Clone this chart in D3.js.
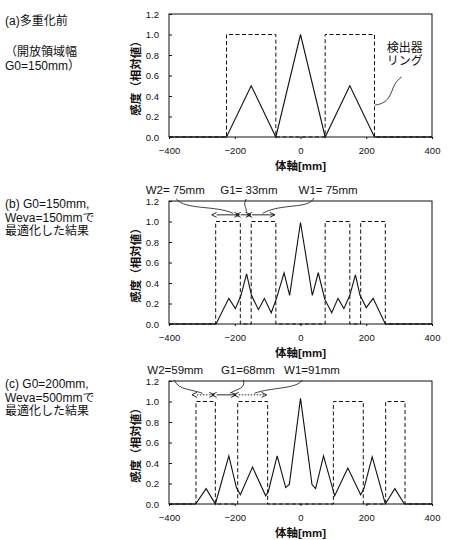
<!DOCTYPE html>
<html>
<head>
<meta charset="utf-8">
<script src="https://cdn.jsdelivr.net/npm/d3@7"></script>
<style>
  body { margin: 0; background: #fff; }
  text { font-family: "Liberation Sans", "Noto Sans CJK JP", sans-serif; fill: #111; }
</style>
</head>
<body>
<script>
// tick values shared by all three panels
const xTicks = [-400, -200, 0, 200, 400];
const yTicks = [0, 0.2, 0.4, 0.6, 0.8, 1.0, 1.2];

// (a) before multiplexing
const posA = [-400, -225, -150, -75, 0, 75, 150, 225, 400];
const sensA = [0, 0, 0.5, 0, 1.0, 0, 0.5, 0, 0];
const ringsA = [[-225, -75], [75, 225]];

// (b) G0=150, Weva=150
const posB = [-400, -257, -218, -198, -181, -164, -149, -128, -110, -89, -73, -50, -33, 0,
              36, 54, 74, 95, 114, 132, 150, 167, 181, 200, 221, 258, 400];
const sensB = [0, 0, 0.25, 0.15, 0.28, 0.49, 0.28, 0.14, 0.25, 0.11, 0.25, 0.5, 0.28, 0.99,
               0.28, 0.5, 0.24, 0.11, 0.25, 0.15, 0.28, 0.48, 0.28, 0.16, 0.25, 0, 0];
const ringsB = [[-258, -183], [-150, -75], [75, 150], [183, 258]];

// (c) G0=200, Weva=500
const posC = [-400, -319, -287, -259, -218, -195, -183, -146, -106, -98, -71, -45, -34, 0,
              35, 46, 70, 104, 144, 183, 193, 218, 258, 287, 316, 400];
const sensC = [0, 0, 0.15, 0, 0.47, 0.16, 0.09, 0.36, 0.08, 0.12, 0.47, 0.16, 0.19, 1.03,
               0.19, 0.15, 0.47, 0.08, 0.35, 0.09, 0.15, 0.46, 0, 0.15, 0, 0];
const ringsC = [[-318, -259], [-191, -100], [100, 191], [259, 318]];

const captions = [
  ["(a)多重化前", "（開放領域幅", "G0=150mm）"],
  ["(b) G0=150mm,", "Weva=150mmで", "最適化した結果"],
  ["(c) G0=200mm,", "Weva=500mmで", "最適化した結果"]
];

// width labels above (b) and (c): text, x [mm], leader curve points [mm, value]
const notesB = [
  { text: "W2= 75mm", x: -381, span: [-255, -186], dot: false,
    lead: [[-378, 1.22], [-350, 1.11], [-260, 1.16], [-205, 1.08]] },
  { text: "G1= 33mm", x: -157, span: [-182, -151], dot: false,
    lead: [[-165, 1.22], [-178, 1.15], [-160, 1.14], [-166, 1.085]] },
  { text: "W1= 75mm", x: 84, span: [-147, -78], dot: false,
    lead: [[40, 1.23], [30, 1.12], [-60, 1.18], [-115, 1.08]] }
];
const notesC = [
  { text: "W2=59mm", x: -381, span: [-315, -262], dot: true,
    lead: [[-384, 1.21], [-372, 1.11], [-330, 1.12], [-298, 1.08]] },
  { text: "G1=68mm", x: -160, span: [-255, -196], dot: false,
    lead: [[-173, 1.21], [-168, 1.12], [-190, 1.13], [-215, 1.08]] },
  { text: "W1=91mm", x: 35, span: [-188, -103], dot: true,
    lead: [[5, 1.21], [-10, 1.12], [-90, 1.14], [-140, 1.08]] }
];

const panels = [
  { top: 14, pos: posA, sens: sensA, rings: ringsA, cap: captions[0], capY: [21, 52, 65.5], notes: [] },
  { top: 201, pos: posB, sens: sensB, rings: ringsB, cap: captions[1], capY: [204, 217.5, 231], notes: notesB },
  { top: 381, pos: posC, sens: sensC, rings: ringsC, cap: captions[2], capY: [384, 397.5, 411], notes: notesC }
];

const plotH = 123;
const svg = d3.select("body").append("svg")
  .attr("width", 456)
  .attr("height", 540);

const defs = svg.append("defs");
["s", "e"].forEach(k => {
  defs.append("marker")
      .attr("id", "head-" + k)
      .attr("viewBox", "0 0 6 6")
      .attr("refX", k === "e" ? 5.5 : 0.5).attr("refY", 3)
      .attr("markerWidth", 6).attr("markerHeight", 6)
      .attr("markerUnits", "userSpaceOnUse")
      .attr("orient", "auto-start-reverse")
    .append("path")
      .attr("d", "M0.5,0.5 L5.5,3 L0.5,5.5")
      .attr("fill", "none")
      .attr("stroke", "#111")
      .attr("stroke-width", 0.9);
});

const x = d3.scaleLinear().domain([-400, 400]).range([169, 432]);

panels.forEach((p, i) => {
  const y = d3.scaleLinear().domain([0, 1.2]).range([p.top + plotH, p.top]);
  const g = svg.append("g");

  // frame
  g.append("rect")
    .attr("x", x(-400)).attr("y", y(1.2))
    .attr("width", x(400) - x(-400)).attr("height", y(0) - y(1.2))
    .attr("fill", "none").attr("stroke", "#111").attr("stroke-width", 1);

  // axes
  const ya = g.append("g")
    .attr("transform", `translate(${x(-400)},0)`)
    .call(d3.axisLeft(y).tickValues(yTicks).tickFormat(d3.format(".1f"))
      .tickSizeInner(-3).tickSizeOuter(0).tickPadding(10));
  const xa = g.append("g")
    .attr("transform", `translate(0,${y(0)})`)
    .call(d3.axisBottom(x).tickValues(xTicks).tickFormat(d3.format("d"))
      .tickSizeInner(2).tickSizeOuter(0).tickPadding(8));
  [ya, xa].forEach(a => {
    a.select(".domain").remove();
    a.selectAll("line").attr("stroke", "#111");
    a.selectAll("text").style("font-size", "9.5px")
      .style("font-family", "'Liberation Sans', sans-serif");
  });

  g.append("text")
    .attr("transform", `translate(136,${(y(0) + y(1.2)) / 2}) rotate(-90)`)
    .attr("text-anchor", "middle").attr("dy", "0.35em")
    .style("font-size", "11.5px").style("font-weight", "bold")
    .text("感度（相対値）");

  g.append("text")
    .attr("x", x(0)).attr("y", y(0) + 29).attr("dy", "0.35em")
    .attr("text-anchor", "middle")
    .style("font-size", "11.5px").style("font-weight", "bold")
    .text("体軸[mm]");

  // detector rings (dashed)
  const ringPts = [[-400, 0]];
  p.rings.forEach(r => { ringPts.push([r[0], 0], [r[0], 1], [r[1], 1], [r[1], 0]); });
  ringPts.push([400, 0]);
  g.append("path")
    .attr("d", d3.line().x(d => x(d[0])).y(d => y(d[1]))(ringPts))
    .attr("fill", "none").attr("stroke", "#111")
    .attr("stroke-width", 1).attr("stroke-dasharray", "4,2.5");

  // sensitivity profile
  g.append("path")
    .attr("d", d3.line().x((d, j) => x(d)).y((d, j) => y(p.sens[j]))(p.pos))
    .attr("fill", "none").attr("stroke", "#111").attr("stroke-width", 1.1);

  // left caption
  g.selectAll(".cap")
    .data(p.cap)
    .join("text")
      .attr("class", "cap")
      .attr("x", 5)
      .attr("y", (d, j) => p.capY[j])
      .attr("dy", "0.35em")
      .style("font-size", "12px")
      .text(d => d);

  // width annotations
  p.notes.forEach(n => {
    g.append("text")
      .attr("x", x(n.x)).attr("y", y(1.31)).attr("dy", "0.35em")
      .attr("text-anchor", "middle")
      .style("font-size", "11.5px")
      .text(n.text);
    g.append("path")
      .attr("d", `M${x(n.span[0])},${y(1.065)}L${x(n.span[1])},${y(1.065)}`)
      .attr("stroke", "#111").attr("stroke-width", 0.9)
      .attr("stroke-dasharray", n.dot ? "1.5,1.5" : null)
      .attr("marker-start", "url(#head-s)")
      .attr("marker-end", "url(#head-e)");
    const c = n.lead.map(d => [x(d[0]), y(d[1])]);
    g.append("path")
      .attr("d", `M${c[0]}C${c[1]} ${c[2]} ${c[3]}`)
      .attr("fill", "none").attr("stroke", "#111").attr("stroke-width", 0.8);
  });

  if (i === 0) {
    g.selectAll(".ring-label")
      .data(["検出器", "リング"])
      .join("text")
        .attr("class", "ring-label")
        .attr("x", x(262))
        .attr("y", (d, j) => y(0.87) + j * 13)
        .attr("dy", "0.35em")
        .style("font-size", "12px")
        .text(d => d);
    const lead = [[308, 0.585], [266, 0.5], [290, 0.34], [226, 0.31]].map(d => [x(d[0]), y(d[1])]);
    g.append("path")
      .attr("d", `M${lead[0]}C${lead[1]} ${lead[2]} ${lead[3]}`)
      .attr("fill", "none").attr("stroke", "#111").attr("stroke-width", 0.8);
  }
});
</script>
</body>
</html>
